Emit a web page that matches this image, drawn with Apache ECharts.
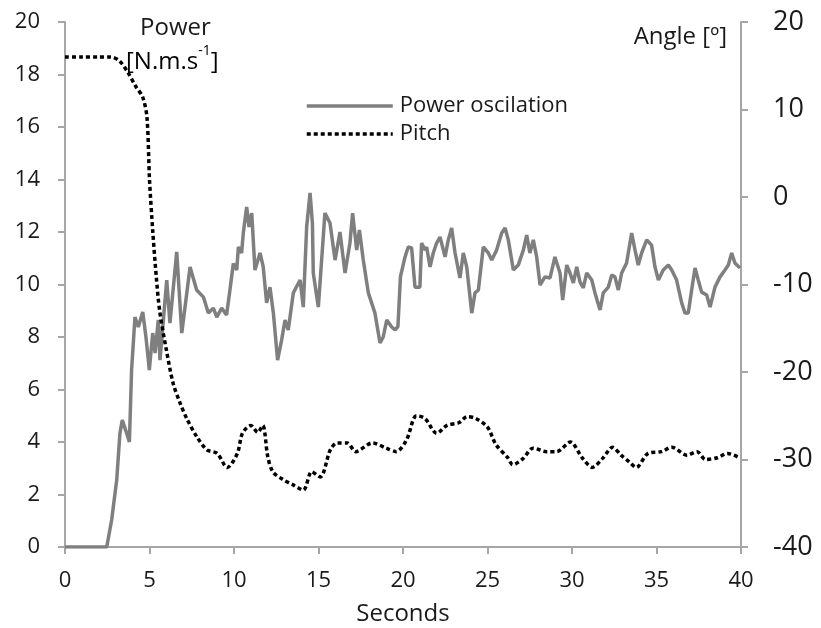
<!DOCTYPE html>
<html>
<head>
<meta charset="utf-8">
<script src="https://cdn.jsdelivr.net/npm/echarts@6/dist/echarts.min.js"></script>
<style>
  html, body { margin: 0; padding: 0; background: #fff; }
  #main { width: 821px; height: 628px; }
</style>
</head>
<body>
<div id="main"></div>
<script>
// power oscillation (seconds / N.m.s-1)
var powerTime = [0, 2.47, 2.76, 3.06, 3.25, 3.39, 3.65, 3.81, 3.94, 4.14, 4.34, 4.6, 4.79, 4.99, 5.19, 5.33,
  5.52, 5.62, 5.82, 6.02, 6.21, 6.61, 6.91, 7.4, 7.79, 8.19, 8.48, 8.78, 8.98, 9.27, 9.56, 9.76, 9.96,
  10.16, 10.26, 10.45, 10.55, 10.75, 10.89, 11.05, 11.24, 11.54, 11.73, 11.93, 12.13, 12.33, 12.58, 12.82,
  13.02, 13.21, 13.51, 13.91, 14.1, 14.3, 14.5, 14.64, 14.69, 14.99, 15.38, 15.68, 15.98, 16.27, 16.57,
  16.86, 17.02, 17.26, 17.42, 17.65, 17.95, 18.34, 18.64, 18.83, 19.04, 19.33, 19.53, 19.7, 19.85, 20.12,
  20.31, 20.51, 20.71, 21.0, 21.1, 21.3, 21.4, 21.6, 21.79, 21.99, 22.19, 22.49, 22.68, 22.88, 23.08,
  23.37, 23.57, 23.77, 24.07, 24.26, 24.46, 24.75, 25.05, 25.25, 25.54, 25.84, 26.04, 26.23, 26.53, 26.82,
  27.12, 27.32, 27.51, 27.71, 27.91, 28.11, 28.4, 28.7, 28.99, 29.29, 29.45, 29.69, 29.88, 30.08, 30.28,
  30.47, 30.67, 30.87, 31.17, 31.36, 31.66, 31.85, 32.15, 32.35, 32.54, 32.74, 32.94, 33.23, 33.53, 33.73,
  33.92, 34.12, 34.42, 34.71, 34.91, 35.11, 35.4, 35.7, 35.9, 36.19, 36.49, 36.69, 36.88, 37.08, 37.28,
  37.47, 37.67, 37.97, 38.17, 38.46, 38.76, 39.05, 39.25, 39.45, 39.64, 39.94];
var powerValue = [0, 0, 1.03, 2.55, 4.33, 4.84, 4.33, 4.0, 6.74, 8.76, 8.38, 8.95, 8.0, 6.74, 8.15, 7.39,
  8.65, 7.12, 8.65, 10.17, 8.53, 11.24, 8.15, 10.67, 9.79, 9.52, 8.91, 9.1, 8.76, 9.1, 8.84, 9.79, 10.8,
  10.55, 11.43, 11.2, 11.96, 12.95, 12.19, 12.72, 10.55, 11.2, 10.67, 9.3, 9.9, 8.91, 7.12, 7.89,
  8.65, 8.27, 9.68, 10.17, 9.14, 12.19, 13.49, 12.34, 10.44, 9.14, 12.72, 12.34, 10.93, 12.0, 10.44,
  11.58, 12.72, 11.31, 12.08, 10.93, 9.68, 8.91, 7.77, 8.0, 8.65, 8.38, 8.27, 8.4, 10.3, 11.05,
  11.43, 11.39, 9.9, 9.9, 11.58, 11.31, 11.43, 10.67, 11.2, 11.58, 11.81, 11.05, 11.7, 12.15, 11.2,
  10.25, 11.2, 10.67, 8.91, 9.68, 9.79, 11.43, 11.2, 10.93, 11.31, 11.96, 12.15, 11.7, 10.55, 10.74,
  11.31, 11.88, 11.2, 11.7, 11.05, 9.98, 10.29, 10.25, 11.05, 10.44, 9.41, 10.74, 10.44, 10.06, 10.67,
  10.1, 9.87, 10.44, 10.17, 9.68, 9.03, 9.68, 9.9, 10.36, 10.29, 9.79, 10.44, 10.82, 11.96, 11.31,
  10.74, 11.2, 11.7, 11.5, 10.67, 10.17, 10.55, 10.74, 10.55, 10.17, 9.3, 8.91, 8.91, 9.79, 10.63,
  10.17, 9.71, 9.6, 9.14, 9.9, 10.29, 10.55, 10.74, 11.2, 10.82, 10.63];

// pitch angle (seconds / degrees)
var pitchTime = [0, 1, 2, 2.7, 3.2, 3.7, 4.2, 4.6, 4.85, 5.0, 5.2, 5.4, 5.6, 6.0, 6.4, 6.8, 7.2, 7.8, 8.4,
  9.0, 9.6, 10.2, 10.5, 11.0, 11.4, 11.7, 12.0, 12.3, 12.9, 13.5, 14.1, 14.6, 15.1, 15.7, 16.1, 16.7, 17.2,
  18.2, 19.0, 19.6, 20.2, 20.8, 21.3, 22.0, 22.6, 23.3, 23.8, 24.3, 25.0, 25.5, 26.2, 26.5, 27.1, 27.7,
  28.5, 29.1, 29.9, 30.6, 31.2, 31.8, 32.4, 32.9, 33.4, 33.8, 34.5, 35.3, 35.9, 36.8, 37.4, 37.9, 38.6,
  39.2, 39.8];
var pitchValue = [16, 16, 16, 16, 15.6, 14.3, 12.6, 11.4, 9.1, 2, -4.1, -9.1, -13, -17.5, -21.3, -23.5,
  -25.3, -27.4, -28.9, -29.3, -30.9, -29.3, -27, -26.1, -26.9, -26.1, -29.7, -31.4, -32.3, -32.9, -33.5,
  -31.4, -32, -28.9, -28.1, -28.1, -29.1, -28.1, -28.7, -29.1, -27.8, -25, -25.3, -27, -26.1, -25.8,
  -25.1, -25.3, -26.3, -28.3, -29.8, -30.6, -29.9, -28.7, -29.1, -29.1, -28, -29.8, -30.9, -29.9, -28.6,
  -29.5, -30.3, -30.9, -29.3, -29.1, -28.6, -29.5, -29.1, -30, -29.8, -29.3, -29.7];

var xTicks = [0, 40, 5];      // min, max, step
var powerTicks = [0, 20, 2];
var angleTicks = [-40, 20, 10];

function pairs(xs, ys) {
  var out = [];
  for (var i = 0; i < xs.length; i++) out.push([xs[i], ys[i]]);
  return out;
}

var FONT = '"Open Sans", sans-serif';
var axisGray = '#a6a6a6';
var ink = '#1a1a1a';

var myChart = echarts.init(document.getElementById('main'));

var option = {
  animation: false,
  backgroundColor: '#fff',
  textStyle: { fontFamily: FONT },
  grid: { left: 65, right: 80, top: 22, bottom: 81, outerBoundsMode: 'none', containLabel: false },
  legend: {
    orient: 'vertical',
    left: 300,
    top: 90,
    itemWidth: 86,
    itemHeight: 14,
    itemGap: 6,
    itemStyle: { opacity: 0 },
    lineStyle: { width: 3.5 },
    textStyle: { fontFamily: FONT, fontSize: 22, color: ink, padding: [0, 0, 0, 2] },
    data: ['Power oscilation', 'Pitch']
  },
  xAxis: {
    type: 'value',
    min: xTicks[0], max: xTicks[1], interval: xTicks[2],
    name: 'Seconds',
    nameLocation: 'middle',
    nameGap: 55,
    nameTextStyle: { fontFamily: FONT, fontSize: 24, color: ink },
    splitLine: { show: false },
    axisLine: { lineStyle: { color: axisGray, width: 2 } },
    axisTick: { length: 7, lineStyle: { color: axisGray, width: 2 } },
    axisLabel: { margin: 23, fontSize: 22, color: ink, fontFamily: FONT }
  },
  yAxis: [{
    type: 'value',
    position: 'left',
    min: powerTicks[0], max: powerTicks[1], interval: powerTicks[2],
    splitLine: { show: false },
    axisLine: { show: true, lineStyle: { color: axisGray, width: 2 } },
    axisTick: { show: true, length: 7, lineStyle: { color: axisGray, width: 2 } },
    axisLabel: { margin: 25, fontSize: 22, color: ink, fontFamily: FONT }
  }, {
    type: 'value',
    position: 'right',
    min: angleTicks[0], max: angleTicks[1], interval: angleTicks[2],
    splitLine: { show: false },
    axisLine: { show: true, lineStyle: { color: axisGray, width: 2 } },
    axisTick: { show: true, length: 7, lineStyle: { color: axisGray, width: 2 } },
    axisLabel: { margin: 32, fontSize: 27, color: ink, fontFamily: FONT }
  }],
  graphic: [{
    type: 'text',
    left: 140, top: 16,
    style: { text: 'Power', font: '24px "Open Sans", sans-serif', fill: ink }
  }, {
    type: 'text',
    left: 126, top: 44,
    style: {
      text: '{b|[N.m.s}{s|-1}{b|]}',
      rich: {
        b: { fontSize: 24, fontFamily: FONT, color: ink, lineHeight: 30, verticalAlign: 'bottom' },
        s: { fontSize: 14, fontFamily: FONT, color: ink, lineHeight: 30, verticalAlign: 'top' }
      }
    }
  }, {
    type: 'text',
    right: 94, top: 25,
    style: { text: 'Angle [º]', font: '24px "Open Sans", sans-serif', fill: ink }
  }],
  series: [{
    name: 'Power oscilation',
    type: 'line',
    yAxisIndex: 0,
    symbol: 'none',
    lineStyle: { color: '#7f7f7f', width: 3.5 },
    itemStyle: { color: '#7f7f7f' },
    data: pairs(powerTime, powerValue)
  }, {
    name: 'Pitch',
    type: 'line',
    yAxisIndex: 1,
    symbol: 'none',
    smooth: 0.3,
    lineStyle: { color: '#000', width: 3.5, type: [4, 3] },
    itemStyle: { color: '#000' },
    data: pairs(pitchTime, pitchValue)
  }]
};

myChart.setOption(option);
</script>
</body>
</html>
